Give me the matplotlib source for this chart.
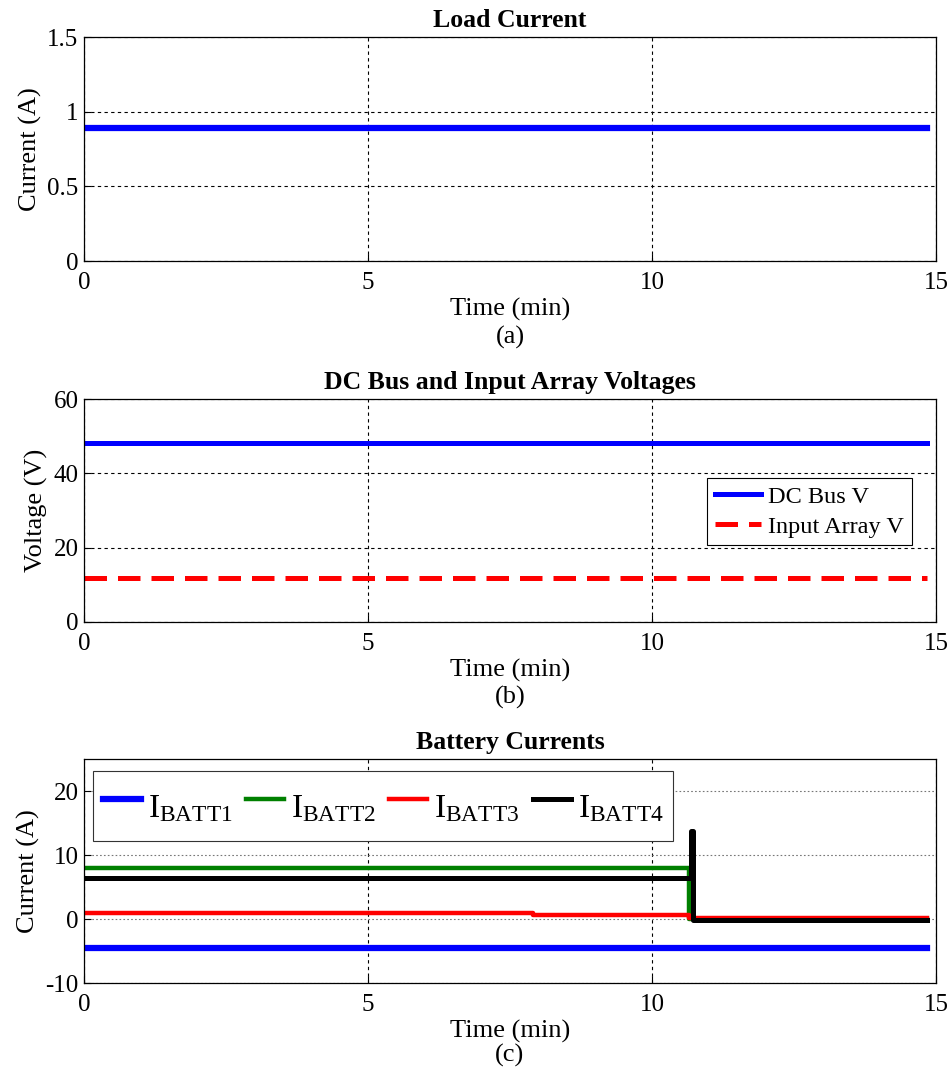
import numpy as np
import matplotlib
matplotlib.use('Agg')
import matplotlib.pyplot as plt

plt.rcParams['font.family'] = ['Liberation Serif', 'DejaVu Serif']
plt.rcParams['mathtext.fontset'] = 'custom'
plt.rcParams['mathtext.rm'] = 'Liberation Serif'
plt.rcParams['mathtext.it'] = 'Liberation Serif'
plt.rcParams['axes.unicode_minus'] = False

# (a) load current
t_load = [0.0, 14.85]
i_load = [0.89, 0.89]

# (b) voltages
t_volt = [0.0, 14.85]
v_bus = [48.2, 48.2]
v_array = [11.8, 11.8]

# (c) battery currents
t_b1 = [0.0, 14.85]
i_b1 = [-4.5, -4.5]
t_b2 = [0.0, 10.65, 10.65, 14.85]
i_b2 = [8.0, 8.0, 0.0, 0.0]
t_b3 = [0.0, 7.9, 7.9, 10.65, 10.65, 14.85]
i_b3 = [0.9, 0.9, 0.7, 0.7, 0.2, 0.2]
t_b4 = [0.0, 10.68, 10.68, 10.72, 10.72, 14.85]
i_b4 = [6.4, 6.4, 13.7, 13.7, -0.1, -0.1]

fig = plt.figure(figsize=(9.52, 10.72), dpi=100)
L, W = 84/952, 852/952
ax1 = fig.add_axes([L, 1-261/1072, W, 224/1072])
ax2 = fig.add_axes([L, 1-622/1072, W, 223/1072])
ax3 = fig.add_axes([L, 1-983/1072, W, 224/1072])

def style(ax, hgrid_col='k', hgrid_ls=(0, (3, 3))):
	ax.set_xlim(0, 15)
	ax.set_xticks([0, 5, 10, 15])
	ax.set_xticklabels(['0', '5', '10', '15'])
	ax.tick_params(axis='both', direction='in', labelsize=18, length=5)
	ax.tick_params(axis='x', pad=8)
	ax.tick_params(axis='y', pad=4)
	ax.xaxis.grid(True, color='k', linestyle=(0, (3, 3)), linewidth=0.8)
	ax.yaxis.grid(True, color=hgrid_col, linestyle=hgrid_ls, linewidth=0.8)
	ax.set_axisbelow(True)
	ax.set_xlabel('Time (min)', fontsize=19, labelpad=3)
	for s in ax.spines.values():
		s.set_linewidth(0.9)

ax1.plot(t_load, i_load, color='#0000ff', linewidth=4.5)
style(ax1)
ax1.set_ylim(0, 1.5)
ax1.set_yticks([0, 0.5, 1, 1.5])
ax1.set_yticklabels(['0', '0.5', '1', '1.5'])
ax1.set_ylabel('Current (A)', fontsize=19, labelpad=4)
ax1.set_title('Load Current', fontsize=18.5, fontweight='bold', pad=7)

ax2.plot(t_volt, v_bus, color='#0000ff', linewidth=3.6, label='DC Bus V')
ax2.plot(t_volt, v_array, color='#ff0000', linewidth=3.6, dashes=(4.5, 2.2), label='Input Array V')
style(ax2)
ax2.set_ylim(0, 60)
ax2.set_yticks([0, 20, 40, 60])
ax2.set_ylabel('Voltage (V)', fontsize=19, labelpad=4)
ax2.set_title('DC Bus and Input Array Voltages', fontsize=18.5, fontweight='bold', pad=7)
leg2 = ax2.legend(loc='upper left', bbox_to_anchor=(623/852, 1-(478-399)/223), fontsize=17.5,
	fancybox=False, framealpha=1, edgecolor='k', handlelength=1.9, borderpad=0.32,
	labelspacing=0.32, handletextpad=0.3, borderaxespad=0)
leg2.get_frame().set_linewidth(0.8)

ax3.plot(t_b1, i_b1, color='#0000ff', linewidth=4.5, label=r'$\mathrm{I}_{\mathrm{BATT1}}$')
ax3.plot(t_b2, i_b2, color='#008000', linewidth=3.2, label=r'$\mathrm{I}_{\mathrm{BATT2}}$')
ax3.plot(t_b3, i_b3, color='#ff0000', linewidth=3.2, label=r'$\mathrm{I}_{\mathrm{BATT3}}$')
ax3.plot(t_b4, i_b4, color='#000000', linewidth=3.6, label=r'$\mathrm{I}_{\mathrm{BATT4}}$')
style(ax3, hgrid_col='#777777', hgrid_ls=(0, (1.5, 2)))
ax3.set_ylim(-10, 25)
ax3.set_yticks([-10, 0, 10, 20])
ax3.set_ylabel('Current (A)', fontsize=19, labelpad=4)
ax3.set_title('Battery Currents', fontsize=18.5, fontweight='bold', pad=7)
leg3 = ax3.legend(loc='upper left', bbox_to_anchor=(9/852, 1-(771-759)/224), fontsize=24, ncol=4,
	fancybox=False, framealpha=1, edgecolor='#333333', handlelength=1.15, handleheight=1.95,
	borderpad=0.3, columnspacing=0.4, handletextpad=0.2, borderaxespad=0)
leg3.get_frame().set_linewidth(0.8)

fig.text(510/952, 1-337/1072, '(a)', ha='center', va='center', fontsize=19)
fig.text(510/952, 1-697/1072, '(b)', ha='center', va='center', fontsize=19)
fig.text(510/952, 1-1055/1072, '(c)', ha='center', va='center', fontsize=19)

fig.savefig('out.png', dpi=100)
